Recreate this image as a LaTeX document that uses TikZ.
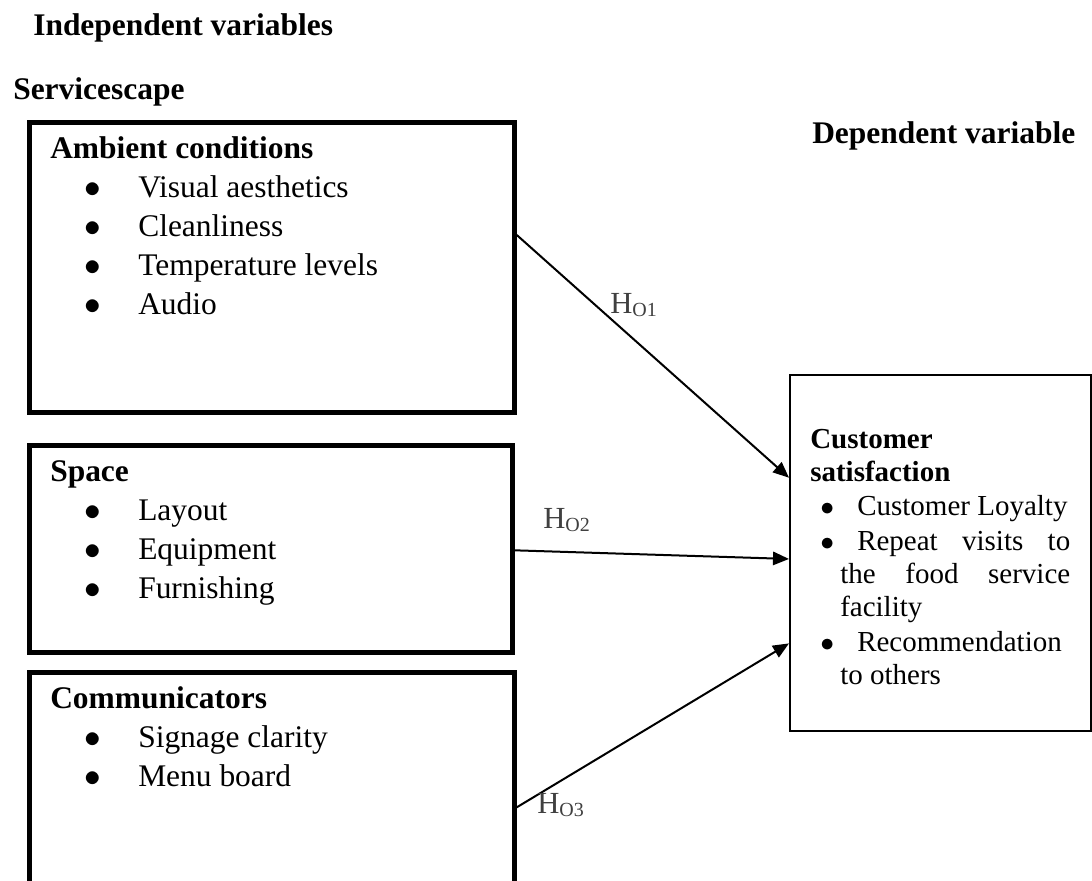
\documentclass[tikz,border=0pt]{standalone}
\usepackage{fontspec}
\setmainfont{Liberation Serif}
\usetikzlibrary{arrows.meta,calc}

\definecolor{hypgray}{HTML}{404040}
\newcommand\itm[1]{\makebox[40.5pt][l]{$\bullet$}#1}
\newcommand\itmr[1]{\makebox[27.75pt][l]{$\bullet$}#1}
\newcommand\hyp[1]{H\raisebox{-2.5pt}{\fontsize{15}{15}\selectfont O#1}}

\begin{document}
\begin{tikzpicture}[x=0.75pt,y=-0.75pt,>={Triangle[length=12pt,width=10pt]},
  body/.style={anchor=base west,inner sep=0pt,font=\fontsize{23.6}{28}\selectfont},
  head/.style={body,font=\fontsize{23.6}{28}\selectfont\bfseries},
  small/.style={anchor=base west,inner sep=0pt,font=\fontsize{21.75}{26}\selectfont},
  smallhead/.style={small,font=\fontsize{21.75}{26}\selectfont\bfseries},
  hyplabel/.style={anchor=base west,inner sep=0pt,text=hypgray,font=\fontsize{23}{27}\selectfont},
  thickbox/.style={draw,line width=3.5pt,anchor=north west,inner sep=0pt},
  thinbox/.style={draw,line width=1.3pt,anchor=north west,inner sep=0pt},
  link/.style={->,line width=1.5pt}]
\useasboundingbox (0,0) rectangle (1092,881);
\clip (0,0) rectangle (1092,881);

% titles
\node[head] (indep) at (33,36) {Independent variables};
\node[head] (svc) at (13,99) {Servicescape};
\node[head] (dep) at (812,143) {Dependent variable};

% servicescape boxes
\node[thickbox,minimum width=363.75pt,minimum height=217.5pt] (amb) at (27,120) {};
\node[thickbox,minimum width=362.25pt,minimum height=155.25pt] (spc) at (27,443) {};
\node[thickbox,minimum width=363.75pt,minimum height=195pt] (com) at (27,670) {};

\node[head] (ambT) at (50,158) {Ambient conditions};
\node[body] (amb1) at (84,197) {\itm{Visual aesthetics}};
\node[body] (amb2) at (84,236) {\itm{Cleanliness}};
\node[body] (amb3) at (84,275) {\itm{Temperature levels}};
\node[body] (amb4) at (84,314) {\itm{Audio}};

\node[head] (spcT) at (50,481) {Space};
\node[body] (spc1) at (84,520) {\itm{Layout}};
\node[body] (spc2) at (84,559) {\itm{Equipment}};
\node[body] (spc3) at (84,598) {\itm{Furnishing}};

\node[head] (comT) at (50,708) {Communicators};
\node[body] (com1) at (84,747) {\itm{Signage clarity}};
\node[body] (com2) at (84,786) {\itm{Menu board}};

% dependent variable box
\node[thinbox,minimum width=225.75pt,minimum height=267pt] (sat) at (789,374) {};
\node[smallhead] (satT1) at (810,448) {Customer};
\node[smallhead] (satT2) at (810,481) {satisfaction};
\node[small] (sat1) at (820,515) {\itmr{Customer Loyalty}};
\node[small] (sat2) at (820,550) {\itmr{\makebox[159.75pt][s]{Repeat visits to}}};
\node[small] (sat3) at (840,583) {\makebox[172.5pt][s]{the food service}};
\node[small] (sat4) at (840,616) {facility};
\node[small] (sat5) at (820,651) {\itmr{Recommendation}};
\node[small] (sat6) at (840,684) {to others};

% hypotheses
\draw[link] ($(amb.north east)!0.39!(amb.south east)$) -- ($(sat.north west)!0.29!(sat.south west)$);
\draw[link] ($(spc.north east)!0.507!(spc.south east)$) -- ($(sat.north west)!0.517!(sat.south west)$);
\draw[link] ($(com.north east)!0.519!(com.south east)$) -- ($(sat.north west)!0.753!(sat.south west)$);
\node[hyplabel] (h1) at (610,313) {\hyp{1}};
\node[hyplabel] (h2) at (543,528) {\hyp{2}};
\node[hyplabel] (h3) at (537,813) {\hyp{3}};
\end{tikzpicture}
\end{document}
